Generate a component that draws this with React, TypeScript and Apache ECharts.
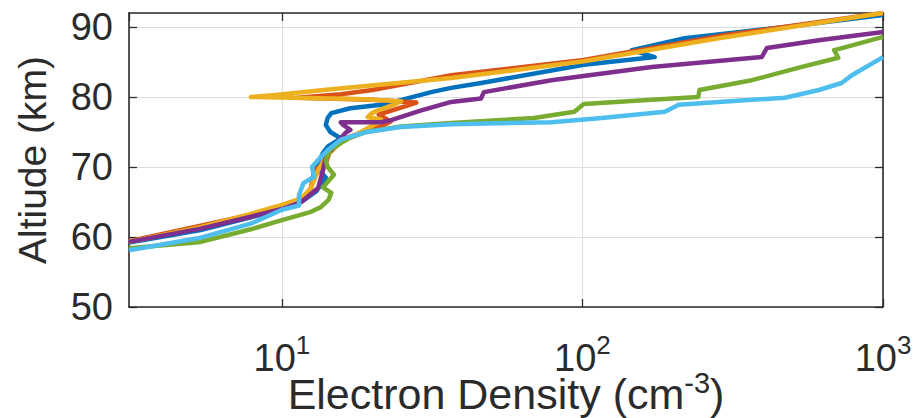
import React, { useEffect, useRef } from "react";
import * as echarts from "echarts";

// Electron density (cm^-3) vs altitude (km) profiles
const profileBlue: [number, number][] = [
  [3.1, 59.2], [5.37, 61.0], [7.88, 62.8], [10, 64.0], [11.6, 65.0], [13.0, 66.5],
  [14.0, 68.5], [13.0, 70.0], [13.7, 72.0], [14.2, 72.9], [15.7, 74.1], [14.5, 75.0],
  [14.0, 76.0], [14.2, 77.0], [14.6, 77.7], [16.9, 78.4], [21.4, 78.9], [23.6, 79.3],
  [31.4, 80.7], [36.6, 81.3], [46, 82.0], [101, 84.6], [174, 85.7], [146, 86.7],
  [219, 88.4], [472, 90.0], [1000, 91.7],
];
const profileOrange: [number, number][] = [
  [3.1, 59.4], [5.37, 61.6], [7.88, 63.2], [10, 64.1], [11.6, 65.2], [12.5, 67.0],
  [12.8, 69.5], [14.0, 70.5], [14.5, 72.5], [16.0, 74.0], [19.5, 75.3], [21.4, 75.8],
  [23.0, 76.5], [21.0, 77.5], [26.3, 78.8], [28.0, 79.2], [20.0, 79.6], [11.3, 79.9],
  [13.0, 80.1], [15.7, 80.4], [20.0, 81.0], [36.6, 83.1], [101, 85.3], [284, 88.7],
  [1000, 92.0],
];
const profileYellow: [number, number][] = [
  [3.1, 59.3], [5.37, 61.4], [7.88, 63.3], [10, 64.6], [11.6, 65.5], [12.5, 67.0],
  [13.2, 69.5], [14.0, 71.5], [15.7, 73.5], [18.3, 75.0], [20.6, 76.2], [21.4, 76.8],
  [19.3, 77.1], [19.8, 77.6], [20.6, 78.0], [23.6, 78.9], [24.9, 79.4], [18.0, 79.7],
  [7.88, 80.0], [9.5, 80.3], [14.6, 81.1], [36.6, 82.7], [101, 85.1], [284, 88.4],
  [1000, 92.0],
];
const profilePurple: [number, number][] = [
  [3.1, 59.3], [5.37, 61.2], [7.88, 62.9], [10, 64.0], [11.6, 65.0], [13.2, 67.0],
  [13.7, 69.5], [14.0, 71.5], [15.0, 73.0], [15.7, 74.1], [16.3, 74.9], [16.9, 75.3],
  [16.0, 76.0], [15.7, 76.4], [21.4, 76.4], [23.1, 76.7], [29.1, 78.1], [36.6, 79.3],
  [46, 79.8], [47, 80.7], [78.8, 82.4], [170, 84.3], [395, 85.7], [411, 87.0],
  [612, 88.1], [1000, 89.3],
];
const profileGreen: [number, number][] = [
  [3.1, 58.4], [5.37, 59.3], [7.88, 61.1], [10, 62.4], [12.5, 63.6], [13.5, 64.3],
  [14.3, 65.3], [14.6, 66.3], [13.7, 67.1], [14.9, 68.9], [14.2, 70.0], [14.0, 71.0],
  [14.5, 72.5], [16.5, 74.0], [19.1, 75.0], [24.9, 75.8], [36.6, 76.3], [69, 77.0],
  [94, 77.9], [101, 79.0], [170, 79.6], [243, 80.0], [245, 81.0], [366, 82.4],
  [537, 84.3], [710, 85.6], [688, 86.7], [746, 87.1], [1000, 88.6],
];
const profileCyan: [number, number][] = [
  [3.1, 58.1], [5.37, 59.9], [7.88, 61.9], [10, 63.9], [11.4, 64.5], [11.4, 66.0],
  [11.8, 67.7], [12.8, 68.6], [12.6, 70.0], [13.2, 71.0], [14.2, 72.4], [15.7, 73.9],
  [19.1, 75.0], [24.9, 75.7], [36.6, 76.1], [78.8, 76.4], [116, 77.0], [188, 77.9],
  [209, 78.9], [366, 79.6], [472, 79.9], [612, 81.0], [728, 82.0], [788, 83.1],
  [1000, 85.7],
];

const seriesNames = ["Profile 1", "Profile 2", "Profile 3", "Profile 4", "Profile 5", "Profile 6"];
const seriesColors = ["#0072BD", "#D95319", "#EDB120", "#7E2F8E", "#77AC30", "#4DBEEE"];
const seriesData = [profileBlue, profileOrange, profileYellow, profilePurple, profileGreen, profileCyan];

const xMin = 3.1;
const xMax = 1000;
const yMin = 50;
const yMax = 92;
const yInterval = 10;

const xTitle = "Electron Density (cm";
const xTitleSup = "-3";
const xTitleEnd = ")";
const yTitle = "Altiude (km)";

const FONT = "'Liberation Sans', Arial, Helvetica, sans-serif";
const INK = "#2b2b2b";

export default function App() {
  const ref = useRef<HTMLDivElement>(null);
  useEffect(() => {
    document.body.style.margin = "0";
    const chart = echarts.init(ref.current!, null, { renderer: "svg" });
    const isDecade = (v: number) => {
      const e = Math.round(Math.log10(v));
      return Math.abs(Math.pow(10, e) - v) < 1e-6 * v ? e : null;
    };
    const tickStyle = { inside: true, length: 8, lineStyle: { color: INK, width: 1.3 } };
    const lineStyle = { color: INK, width: 1.6 };
    chart.setOption({
      animation: false,
      backgroundColor: "#ffffff",
      grid: {
        left: 129,
        right: 34,
        top: 13,
        bottom: 111,
        containLabel: false,
        outerBoundsMode: "none",
      },
      xAxis: [
        {
          type: "log",
          logBase: 10,
          min: xMin,
          max: xMax,
          position: "bottom",
          axisLine: { show: true, lineStyle },
          axisTick: tickStyle,
          splitLine: { show: true, lineStyle: { color: "#dedede", width: 1 } },
          axisLabel: {
            show: true,
            margin: 25,
            showMinLabel: false,
            formatter: (v: number) => {
              const e = isDecade(v);
              return e === null ? "" : `{b|10}{s|${e}}`;
            },
            rich: {
              b: { fontSize: 38, lineHeight: 52, fontFamily: FONT, color: INK },
              s: { fontSize: 26, lineHeight: 26, verticalAlign: "top", fontFamily: FONT, color: INK },
            },
          },
          name: `{t|${xTitle}}{s|${xTitleSup}}{t|${xTitleEnd}}`,
          nameLocation: "middle",
          nameGap: 61,
          nameMoveOverlap: false,
          nameTextStyle: {
            rich: {
              t: { fontSize: 43, lineHeight: 52, fontFamily: FONT, color: INK },
              s: { fontSize: 29, lineHeight: 29, verticalAlign: "top", fontFamily: FONT, color: INK },
            },
          },
        },
        {
          type: "log",
          logBase: 10,
          min: xMin,
          max: xMax,
          position: "top",
          axisLine: { show: true, lineStyle },
          axisTick: tickStyle,
          splitLine: { show: false },
          axisLabel: { show: false },
        },
      ],
      yAxis: [
        {
          type: "value",
          min: yMin,
          max: yMax,
          interval: yInterval,
          position: "left",
          axisLine: { show: true, lineStyle },
          axisTick: tickStyle,
          splitLine: { show: true, lineStyle: { color: "#dedede", width: 1 } },
          axisLabel: {
            margin: 16,
            fontSize: 38,
            fontFamily: FONT,
            color: INK,
            showMaxLabel: false,
            formatter: (v: number) => (v % yInterval === 0 ? String(v) : ""),
          },
          name: yTitle,
          nameLocation: "middle",
          nameGap: 77,
          nameMoveOverlap: false,
          nameTextStyle: { fontSize: 39, fontFamily: FONT, color: INK },
        },
        {
          type: "value",
          min: yMin,
          max: yMax,
          interval: yInterval,
          position: "right",
          axisLine: { show: true, lineStyle },
          axisTick: tickStyle,
          splitLine: { show: false },
          axisLabel: { show: false },
        },
      ],
      series: seriesData.map((d, i) => ({
        name: seriesNames[i],
        type: "line",
        xAxisIndex: 0,
        yAxisIndex: 0,
        data: d,
        showSymbol: false,
        symbol: "none",
        clip: true,
        lineStyle: { color: seriesColors[i], width: 4.5, join: "round" },
        itemStyle: { color: seriesColors[i] },
      })),
    });
    return () => chart.dispose();
  }, []);
  return <div ref={ref} style={{ width: 917, height: 418 }} />;
}
